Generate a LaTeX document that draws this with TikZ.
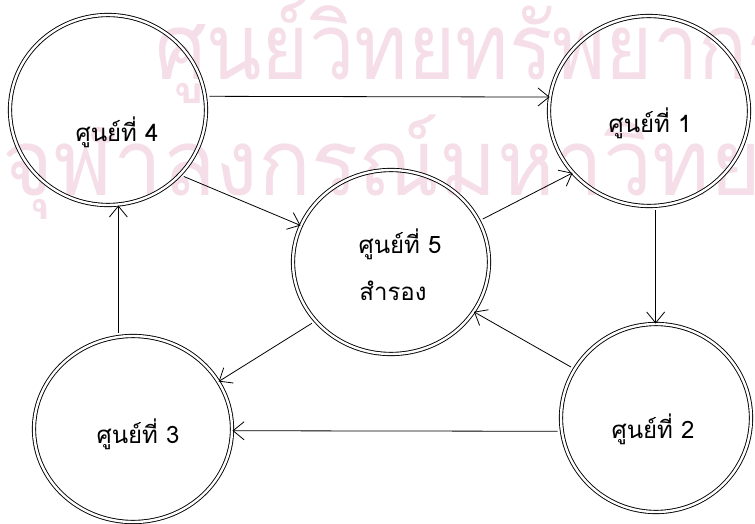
\documentclass[tikz,border=0pt]{standalone}
\usepackage{fontspec}
\newfontfamily\thai[Script=Thai]{Loma}
\newfontfamily\wmfonta[Script=Thai,FakeStretch=0.88]{Loma}
\newfontfamily\wmfontb[Script=Thai,FakeStretch=0.95]{Loma}
\usetikzlibrary{shapes.geometric,arrows.meta}
\definecolor{wmpink}{RGB}{245,222,232}
\begin{document}
\begin{tikzpicture}[x=1pt,y=-1pt,
  ctr/.style={ellipse, draw=black, double=white, double distance=2.4pt,
    line width=0.9pt, inner sep=0pt},
  lbl/.style={font=\thai\fontsize{24}{28}\selectfont, inner sep=0pt},
  wm/.style={text=wmpink, inner sep=0pt},
  arr/.style={-{Straight Barb[length=11pt,width=18pt]}, line width=0.8pt, shorten <=4pt}]
\useasboundingbox (0,0) rectangle (755,524);
\fill[white] (0,0) rectangle (755,524);
% watermark
\node[wm, font=\wmfonta\fontsize{92}{100}\selectfont, anchor=base west] (w1) at (155,80) {ศูนย์วิทยทรัพยากร};
\node[wm, font=\wmfontb\fontsize{92}{100}\selectfont, anchor=base west] (w2) at (2,195) {จุฬาลงกรณ์มหาวิทยาลัย};
% centres
\node[ctr, minimum width=196pt, minimum height=190pt] (c4) at (108,110) {};
\node[ctr, minimum width=200pt, minimum height=190pt] (c1) at (649,111) {};
\node[ctr, minimum width=196pt, minimum height=184pt] (c5) at (391,262) {};
\node[ctr, minimum width=198pt, minimum height=186pt] (c3) at (133,429) {};
\node[ctr, minimum width=190pt, minimum height=188pt] (c2) at (656,418) {};
% labels
\node[lbl, anchor=base] (t4) at (117,142) {ศูนย์ที่ 4};
\node[lbl, anchor=base] (t1) at (650,133) {ศูนย์ที่ 1};
\node[lbl, anchor=base] (t5) at (400,253) {ศูนย์ที่ 5};
\node[lbl, anchor=base] (t5b) at (393,300) {สำรอง};
\node[lbl, anchor=base] (t3) at (138,443) {ศูนย์ที่ 3};
\node[lbl, anchor=base] (t2) at (653,438) {ศูนย์ที่ 2};
% connectors
\draw[arr] (c4.8) -- (c1.172);
\draw[arr] (c4.-42) -- (c5.158);
\draw[arr] (c5.25) -- (c1.219);
\draw[arr] (c1.-86) -- (c1.-86 |- c2.north);
\draw[arr] (c2.149) -- (c5.-31);
\draw[arr] (c5.218) -- (c3.29);
\draw[arr] (c2.188) -- (c3.-1);
\draw[arr] (c3.99.7) -- (c3.99.7 |- c4.south);
\end{tikzpicture}
\end{document}
